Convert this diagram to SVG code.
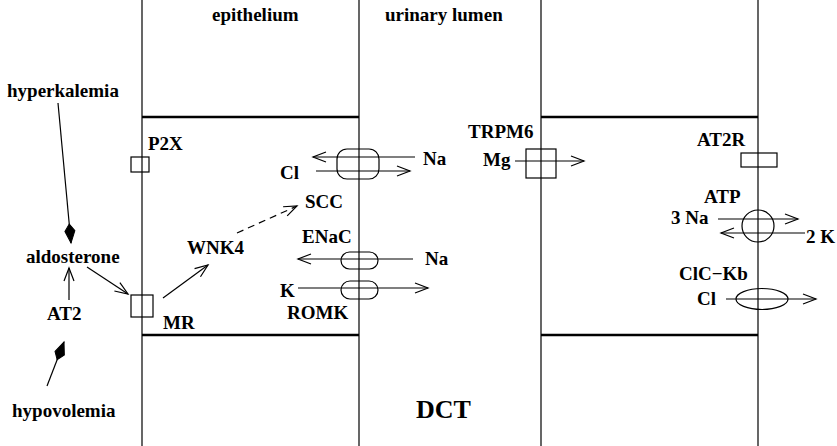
<svg xmlns="http://www.w3.org/2000/svg" width="837" height="446" viewBox="0 0 837 446">
<style>
text{font-family:"Liberation Serif","Times New Roman",serif;font-weight:bold;font-size:19px;fill:#000}
.l{stroke:#000;stroke-width:1.2;fill:none}
.thick{stroke:#000;stroke-width:2.5;fill:none}
.sh{stroke:#000;stroke-width:1.2;fill:#fff;fill-opacity:0}
.a{marker-end:url(#open)}
.k{marker-end:url(#kite)}
</style>
<defs>
<marker id="open" markerUnits="userSpaceOnUse" markerWidth="16" markerHeight="12" refX="13" refY="5" orient="auto" overflow="visible">
<path d="M0,0 L13,5 L0,10" fill="none" stroke="#000" stroke-width="1.2"/>
</marker>
<marker id="kite" markerUnits="userSpaceOnUse" markerWidth="20" markerHeight="12" refX="19" refY="5" orient="auto" overflow="visible">
<path d="M0,5 L7,0 L19,5 L7,10 Z" fill="#000" stroke="#000" stroke-width="1"/>
</marker>
</defs>
<g id="membranes">
<line class="l" x1="142" y1="0" x2="142" y2="446"/>
<line class="l" x1="359" y1="0" x2="359" y2="446"/>
<line class="l" x1="541" y1="0" x2="541" y2="446"/>
<line class="l" x1="758" y1="0" x2="758" y2="446"/>
<line class="thick" x1="142" y1="117" x2="359" y2="117"/>
<line class="thick" x1="142" y1="335" x2="359" y2="335"/>
<line class="thick" x1="541" y1="117" x2="758" y2="117"/>
<line class="thick" x1="541" y1="335" x2="758" y2="335"/>
</g>
<g id="labels">
<text x="212" y="21">epithelium</text>
<text x="385" y="21">urinary lumen</text>
<text x="416" y="418" style="font-size:26px">DCT</text>
</g>
<g id="hyperkalemia"><text x="7" y="97">hyperkalemia</text></g>
<g id="aldosterone"><text x="26" y="263">aldosterone</text></g>
<g id="AT2"><text x="47" y="320">AT2</text></g>
<g id="hypovolemia"><text x="12" y="417">hypovolemia</text></g>
<g id="P2X"><rect class="sh" x="131" y="157" width="18" height="15"/><text x="148" y="150">P2X</text></g>
<g id="MR"><rect class="sh" x="131" y="295" width="22" height="22"/><text x="163" y="329">MR</text></g>
<g id="WNK4"><text x="187" y="254">WNK4</text></g>
<g id="SCC"><text x="305" y="208">SCC</text></g>
<g id="NaCl"><rect class="sh" x="337" y="149" width="42" height="30" rx="10"/><text x="280" y="179">Cl</text><text x="423" y="165">Na</text></g>
<g id="ENaC"><rect class="sh" x="341" y="252" width="37" height="17" rx="8.5"/><text x="302" y="243">ENaC</text><text x="425" y="265">Na</text></g>
<g id="ROMK"><rect class="sh" x="341" y="281" width="37" height="18" rx="9"/><text x="280" y="297">K</text><text x="287" y="319">ROMK</text></g>
<g id="TRPM6"><rect class="sh" x="526" y="149" width="30" height="29"/><text x="468" y="138">TRPM6</text><text x="483" y="166">Mg</text></g>
<g id="AT2R"><rect class="sh" x="741" y="153" width="36" height="14"/><text x="697" y="146">AT2R</text></g>
<g id="ATP"><circle class="sh" cx="758" cy="226" r="16"/><text x="704" y="203">ATP</text><text x="671" y="224">3 Na</text><text x="806" y="243">2 K</text></g>
<g id="ClC-Kb"><ellipse class="sh" cx="762" cy="299" rx="26" ry="10.5"/><text x="679" y="280">ClC−Kb</text><text x="697" y="305">Cl</text></g>
<g id="connectors">
<line class="l k" x1="58" y1="103" x2="71" y2="243"/>
<line class="l k" x1="47" y1="386" x2="64" y2="342"/>
<line class="l a" x1="69" y1="300" x2="69" y2="268"/>
<line class="l a" x1="87" y1="267" x2="128" y2="294"/>
<line class="l a" x1="163" y1="298" x2="208" y2="265"/>
<line class="l a" x1="237" y1="233" x2="297" y2="206" stroke-dasharray="7,5"/>
<line class="l a" x1="415" y1="157" x2="313" y2="157"/>
<line class="l a" x1="316" y1="171" x2="410" y2="171"/>
<line class="l a" x1="413" y1="259" x2="298" y2="259"/>
<line class="l a" x1="298" y1="288" x2="428" y2="288"/>
<line class="l a" x1="515" y1="161" x2="584" y2="161"/>
<line class="l a" x1="718" y1="219" x2="798" y2="219"/>
<line class="l a" x1="805" y1="233" x2="721" y2="233"/>
<line class="l a" x1="726" y1="299" x2="816" y2="299"/>
</g>
</svg>
